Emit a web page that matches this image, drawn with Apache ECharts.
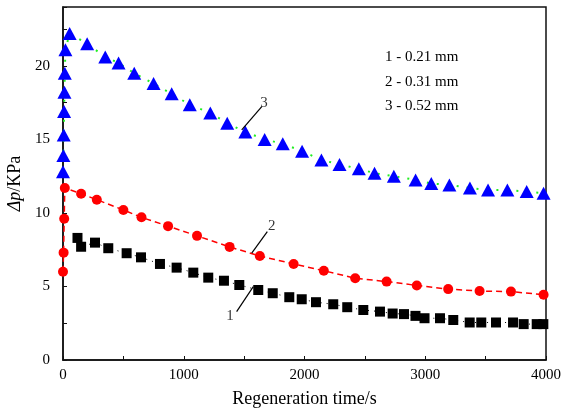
<!DOCTYPE html>
<html>
<head>
<meta charset="utf-8">
<script src="https://cdn.jsdelivr.net/npm/echarts@6/dist/echarts.min.js"></script>
<style>
  html, body { margin: 0; padding: 0; background: #fff; }
  #chart { width: 562px; height: 412px; }
</style>
</head>
<body>
<div id="chart"></div>
<script>
// regeneration time (s) and pressure drop (KPa)
const time1 = [120, 150, 265, 375, 527, 646, 803, 941, 1079, 1203, 1333, 1460, 1617, 1737, 1874, 1977, 2095, 2238, 2354, 2487, 2625, 2730, 2824, 2919, 2994, 3122, 3232, 3368, 3464, 3586, 3727, 3815, 3923, 3978]
const dp1 = [8.3, 7.7, 7.98, 7.6, 7.26, 6.98, 6.53, 6.28, 5.94, 5.6, 5.39, 5.1, 4.76, 4.54, 4.27, 4.13, 3.93, 3.79, 3.59, 3.4, 3.29, 3.16, 3.12, 3.0, 2.84, 2.84, 2.72, 2.55, 2.55, 2.55, 2.55, 2.44, 2.44, 2.44]

const time2 = [0, 5, 10, 15, 150, 280, 500, 650, 870, 1110, 1380, 1630, 1910, 2160, 2420, 2680, 2930, 3190, 3450, 3710, 3980]
const dp2 = [6.0, 7.3, 9.6, 11.7, 11.3, 10.9, 10.2, 9.7, 9.1, 8.44, 7.69, 7.07, 6.53, 6.07, 5.56, 5.33, 5.07, 4.82, 4.69, 4.65, 4.44]

const time3 = [0, 3, 6, 9, 12, 15, 20, 55, 200, 350, 460, 590, 750, 900, 1050, 1220, 1360, 1510, 1670, 1820, 1980, 2140, 2290, 2450, 2580, 2740, 2920, 3050, 3200, 3370, 3520, 3680, 3840, 3980]
const dp3 = [12.8, 13.9, 15.3, 16.9, 18.2, 19.5, 21.1, 22.2, 21.5, 20.6, 20.2, 19.5, 18.8, 18.1, 17.35, 16.8, 16.1, 15.5, 15.0, 14.7, 14.2, 13.6, 13.3, 13.0, 12.7, 12.5, 12.24, 12.0, 11.9, 11.7, 11.56, 11.56, 11.45, 11.34]

const legendLines = ['1 - 0.21 mm', '2 - 0.31 mm', '3 - 0.52 mm']

// curve labels with leader lines, in data units
const tagText = ['1', '2', '3']
const tagAt = [[1383, 3.0], [1728, 9.1], [1665, 17.5]]
const leaderFrom = [[1438, 3.29], [1692, 8.73], [1646, 17.23]]
const leaderTo = [[1576, 4.99], [1563, 7.26], [1480, 15.65]]

const serif = 'Liberation Serif'

function pairs(xs, ys) {
  return xs.map((x, i) => [x, ys[i]])
}

let chart = echarts.init(document.getElementById('chart'))

let leaders = tagText.map((t, i) => ({
  type: 'line',
  data: [leaderFrom[i], leaderTo[i]],
  symbol: 'none',
  silent: true,
  lineStyle: { color: '#000', width: 1.2 },
  z: 5
}))

let option = {
  animation: false,
  backgroundColor: '#fff',
  grid: {
    left: 63, right: 16, top: 7, bottom: 52,
    outerBoundsMode: 'none',
    containLabel: false,
    show: true, borderColor: '#111', borderWidth: 1.5
  },
  xAxis: {
    type: 'value',
    min: 0, max: 4000, interval: 1000,
    name: 'Regeneration time/s',
    nameLocation: 'middle',
    nameGap: 30,
    nameTextStyle: { fontFamily: serif, fontSize: 18, color: '#000' },
    axisLine: { lineStyle: { color: '#111', width: 1.5 } },
    axisTick: { inside: true, length: 4, lineStyle: { color: '#111' } },
    minorTick: { show: true, splitNumber: 2, length: 4, lineStyle: { color: '#111' } },
    axisLabel: {
      fontFamily: serif, fontSize: 15, color: '#000', margin: 8,
      formatter: v => String(v)
    },
    splitLine: { show: false }
  },
  yAxis: {
    type: 'value',
    min: 0, max: 24, interval: 5,
    name: '{i|Δp}/KPa',
    nameLocation: 'middle',
    nameGap: 37,
    nameTextStyle: {
      fontFamily: serif, fontSize: 18, color: '#000',
      rich: { i: { fontFamily: serif, fontSize: 18, fontStyle: 'italic', color: '#000' } }
    },
    axisLine: { lineStyle: { color: '#111', width: 1.5 } },
    axisTick: { inside: true, length: 4, lineStyle: { color: '#111' } },
    minorTick: { show: true, splitNumber: 2, length: 4, lineStyle: { color: '#111' } },
    axisLabel: {
      fontFamily: serif, fontSize: 15, color: '#000', margin: 13,
      showMaxLabel: false,
      formatter: v => (v % 5 === 0 ? String(v) : '')
    },
    splitLine: { show: false }
  },
  graphic: legendLines.map((s, i) => ({
    type: 'text',
    left: 385,
    top: 50 + i * 24.5,
    style: { text: s, font: '15px "Liberation Serif"', fill: '#000' }
  })),
  series: [
    {
      name: '1',
      type: 'line',
      data: pairs(time1, dp1),
      symbol: 'rect',
      symbolSize: 10,
      itemStyle: { color: '#000' },
      lineStyle: { color: '#000', width: 1, type: [1, 5] },
      z: 3
    },
    {
      name: '2',
      type: 'line',
      data: pairs(time2, dp2),
      symbol: 'circle',
      symbolSize: 10,
      itemStyle: { color: '#ff0000' },
      lineStyle: { color: '#ff0000', width: 1.5, type: [6, 4] },
      z: 3
    },
    {
      name: '3',
      type: 'line',
      data: pairs(time3, dp3),
      symbol: 'triangle',
      symbolSize: [14, 13],
      itemStyle: { color: '#0000ff' },
      lineStyle: { color: '#22ee22', width: 2, type: [2, 8] },
      z: 2
    },
    ...leaders,
    {
      type: 'scatter',
      data: tagAt,
      symbolSize: 0,
      silent: true,
      label: {
        show: true,
        position: 'inside',
        formatter: p => tagText[p.dataIndex],
        fontFamily: serif, fontSize: 15, color: '#000'
      },
      z: 6
    }
  ]
}

chart.setOption(option)
</script>
</body>
</html>
